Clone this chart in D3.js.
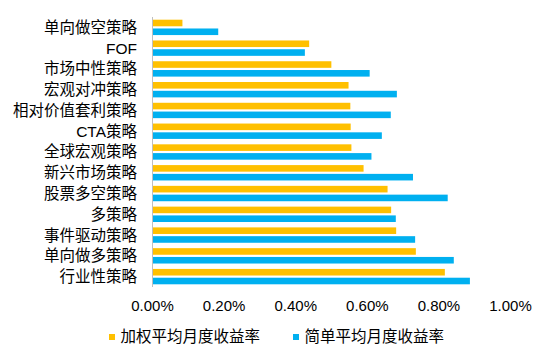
<!DOCTYPE html>
<html><head><meta charset="utf-8">
<script src="https://cdn.jsdelivr.net/npm/d3@7/dist/d3.min.js"></script>
<style>body{margin:0;background:#fff}svg{display:block}</style>
</head><body>
<script>
const categories = ["单向做空策略","FOF","市场中性策略","宏观对冲策略","相对价值套利策略","CTA策略","全球宏观策略","新兴市场策略","股票多空策略","多策略","事件驱动策略","单向做多策略","行业性策略"];
const weighted = [0.00085,0.00439,0.00501,0.00549,0.00554,0.00555,0.00557,0.00591,0.00658,0.00668,0.00682,0.00737,0.00818];
const simple   = [0.00185,0.00427,0.00608,0.00684,0.00667,0.00642,0.00613,0.00729,0.00826,0.00681,0.00735,0.00843,0.00888];
const seriesNames = ["加权平均月度收益率","简单平均月度收益率"];
const xTicks = [0,0.002,0.004,0.006,0.008,0.01];
const colors = ["#FFC000","#00B0F0"];

const W=550,H=361;
const svg=d3.select("body").append("svg").attr("width",W).attr("height",H);
const x=d3.scaleLinear().domain([0,0.01]).range([152,510]);
const y=d3.scaleBand().domain(categories).range([17,287]).paddingInner(0.26).paddingOuter(0.13);
const sub=d3.scaleBand().domain([0,1]).range([0,y.bandwidth()]).paddingInner(0.25);
const font="'Liberation Sans', Arial, 'Noto Sans CJK SC', sans-serif";

const data=[weighted,simple];
data.forEach((vals,si)=>{
  svg.append("g").selectAll("rect").data(categories).join("rect")
    .attr("x",x(0)).attr("y",c=>y(c)+sub(si))
    .attr("width",(c,i)=>x(vals[i])-x(0)).attr("height",sub.bandwidth())
    .attr("fill",colors[si]);
});

// y axis line
svg.append("line").attr("x1",x(0)+0.5).attr("x2",x(0)+0.5).attr("y1",17).attr("y2",287)
  .attr("stroke","#BFBFBF").attr("stroke-width",1);

// category labels
svg.append("g").selectAll("text").data(categories).join("text")
  .attr("x",137).attr("y",c=>y(c)+y.bandwidth()/2).attr("dy","0.35em")
  .attr("text-anchor","end").attr("font-family",font).attr("font-size",15.5).attr("fill","#000")
  .text(d=>d);

// x axis tick labels
const xa=d3.axisBottom(x).tickValues(xTicks).tickFormat(d3.format(".2%")).tickSize(0).tickPadding(0);
const gx=svg.append("g").attr("transform","translate(0,300)").call(xa);
gx.select(".domain").remove();
gx.selectAll("text").attr("font-family",font).attr("font-size",15).attr("fill","#000").attr("dy","0.32em").attr("y",6);

// legend
const leg=[{x:109,t:seriesNames[0],c:colors[0]},{x:293,t:seriesNames[1],c:colors[1]}];
leg.forEach(l=>{
  svg.append("rect").attr("x",l.x).attr("y",334).attr("width",6).attr("height",6).attr("fill",l.c);
  svg.append("text").attr("x",l.x+11.5).attr("y",337).attr("dy","0.35em")
    .attr("font-family",font).attr("font-size",15.5).attr("fill","#000").text(l.t);
});
</script>
</body></html>
